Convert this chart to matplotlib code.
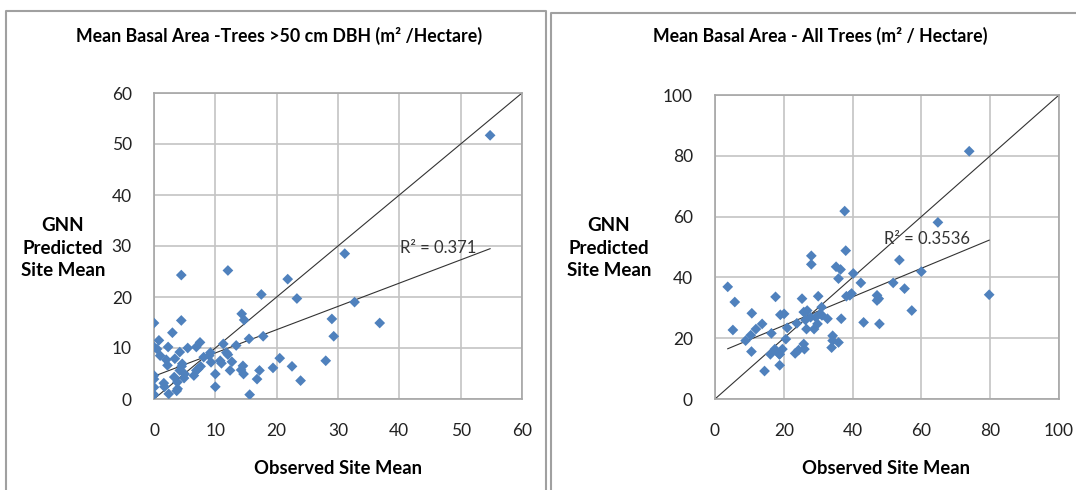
import numpy as np
import matplotlib
matplotlib.use("Agg")
import matplotlib.pyplot as plt
from matplotlib.lines import Line2D

plt.rcParams['font.family'] = ['Lato', 'DejaVu Sans']

# left chart: trees > 50 cm DBH
big_obs = [54.8, 31.1, 4.45, 12.05, 21.8, 17.5, 23.3, 32.7, 14.3, 14.7, 29.0, 36.8,
           0, 4.45, 29.3, 17.8, 15.5, 13.4, 11.3, 3.0, 0.8, 0, 0.5, 2.3, 1.0, 5.5,
           6.9, 7.5, 4.2, 3.4, 2.0, 2.2, 4.6, 7.6, 9.3, 11.0, 12.05, 12.7, 10.0, 12.4,
           14.2, 14.6, 17.2, 19.4, 20.5, 22.5, 28.0, 23.9, 16.8, 10.0, 15.6, 0, 0, 0,
           0, 1.6, 2.4, 3.7, 3.8, 3.3, 4.9, 6.5, 6.9, 4.2, 4.5, 1.7, 5.0, 8.1, 9.0,
           9.2, 10.8, 11.8, 3.85, 7.2, 14.5]
big_pred = [51.7, 28.5, 24.3, 25.2, 23.5, 20.5, 19.7, 19.0, 16.7, 15.5, 15.7, 14.9,
            14.9, 15.4, 12.3, 12.3, 11.8, 10.5, 10.8, 13.0, 11.5, 10.2, 9.8, 10.2, 8.5, 10.0,
            10.2, 11.1, 9.2, 7.9, 7.7, 6.6, 6.9, 6.4, 7.2, 7.0, 8.7, 7.3, 4.9, 5.6,
            5.7, 4.9, 5.6, 6.1, 8.0, 6.4, 7.5, 3.6, 3.9, 2.4, 0.85, 4.6, 3.9, 2.3,
            0.85, 3.1, 1.0, 1.6, 3.3, 4.3, 4.1, 4.6, 5.6, 5.6, 6.4, 2.4, 4.9, 8.2, 8.5,
            9.1, 7.5, 9.1, 2.0, 5.9, 6.5]

# right chart: all trees
all_obs = [3.7, 5.75, 5.2, 10.7, 10.6, 8.9, 10.4, 11.9, 13.7, 14.4, 16.1, 16.4, 17.6,
           17.4, 18.7, 18.8, 18.8, 19.0, 20.1, 19.6, 20.6, 21.0, 23.3, 24.3, 23.8, 25.3,
           25.8, 26.0, 25.8, 26.3, 26.6, 26.8, 27.8, 28.0, 28.0, 28.8, 29.3, 30.0, 29.8,
           30.6, 31.0, 31.1, 32.7, 34.2, 34.2, 33.9, 35.9, 35.9, 35.2, 36.5, 36.7, 37.7,
           38.0, 38.2, 39.2, 39.7, 40.2, 42.4, 43.2, 47.1, 47.1, 47.6, 47.8, 51.8, 53.6,
           55.1, 57.2, 60.0, 64.8, 73.9, 79.7]
all_pred = [36.9, 31.9, 22.7, 28.2, 15.6, 19.2, 21.0, 23.0, 24.7, 9.2, 14.7, 21.6, 33.6,
            16.4, 14.7, 11.1, 14.7, 27.7, 28.0, 16.4, 19.7, 23.4, 15.0, 16.1, 24.9, 33.0,
            18.1, 16.4, 28.6, 26.0, 23.0, 29.1, 26.9, 47.1, 44.3, 23.0, 26.9, 33.8, 24.7,
            28.0, 30.2, 27.5, 26.4, 20.8, 19.2, 16.9, 18.6, 39.6, 43.5, 42.6, 26.4, 61.8,
            48.8, 33.8, 34.1, 34.7, 41.3, 38.2, 25.2, 34.1, 32.4, 33.0, 24.7, 38.2, 45.7,
            36.3, 29.1, 41.9, 58.1, 81.5, 34.3]

W, H = 1076, 490
fig = plt.figure(figsize=(W / 100, H / 100), dpi=100)


def px_axes(x0, y0, x1, y1):
    return fig.add_axes([x0 / W, 1 - y1 / H, (x1 - x0) / W, (y1 - y0) / H])


def panel(ax, obs, pred, vmax, step, r2_text, r2_pos, title, title_x, ylab_x, xlab_x):
    ax.set_xlim(0, vmax)
    ax.set_ylim(0, vmax)
    ax.set_xticks(np.arange(0, vmax + 1, step))
    ax.set_yticks(np.arange(0, vmax + 1, step))
    ax.grid(True, color='#c4c4c4', linewidth=1.2)
    ax.set_axisbelow(True)
    for s in ax.spines.values():
        s.set_color('#a6a6a6')
        s.set_linewidth(1.2)
    ax.tick_params(axis='y', length=0, labelsize=12.5, colors='#222222', pad=16)
    ax.tick_params(axis='x', length=0, labelsize=12.5, colors='#222222', pad=17)

    ax.plot([0, vmax], [0, vmax], color='#333333', linewidth=0.8)
    b, a = np.polyfit(obs, pred, 1)
    xs = np.array([min(obs), max(obs)])
    ax.plot(xs, a + b * xs, color='#333333', linewidth=0.8)
    ax.scatter(obs, pred, marker='D', s=30, color='#4f81bd', edgecolors='none', zorder=3)
    ax.text(r2_pos[0], r2_pos[1], r2_text, fontsize=12, color='#333333', va='center', ha='left')

    fig.text(title_x / W, 1 - 36 / H, title, fontsize=12.8, fontweight='bold', ha='center', va='center')
    fig.text(ylab_x / W, 1 - 248 / H, "GNN\nPredicted\nSite Mean", fontsize=13.5, fontweight='bold',
             ha='center', va='center', linespacing=1.4)
    fig.text(xlab_x / W, 1 - 468 / H, "Observed Site Mean", fontsize=13.2, fontweight='bold',
             ha='center', va='center')


ax1 = px_axes(154, 93, 522, 399)
panel(ax1, big_obs, big_pred, 60, 10, "R\u00b2 = 0.371", (40.1, 29.6),
      "Mean Basal Area -Trees >50 cm DBH (m\u00b2 /Hectare)", 279, 63, 338)

ax2 = px_axes(715, 95, 1059, 399)
panel(ax2, all_obs, all_pred, 100, 20, "R\u00b2 = 0.3536", (49.0, 52.5),
      "Mean Basal Area - All Trees (m\u00b2 / Hectare)", 820, 609, 886)

# panel frames
for xs, ys in [([6, 6, 545.5, 545.5], [H, 11, 11, H]), ([551, 551, W + 5], [H, 13.5, 13.5])]:
    fig.add_artist(Line2D([x / W for x in xs], [1 - y / H for y in ys], color='#a0a0a0', linewidth=1.5))

plt.savefig("out.png", dpi=100)
